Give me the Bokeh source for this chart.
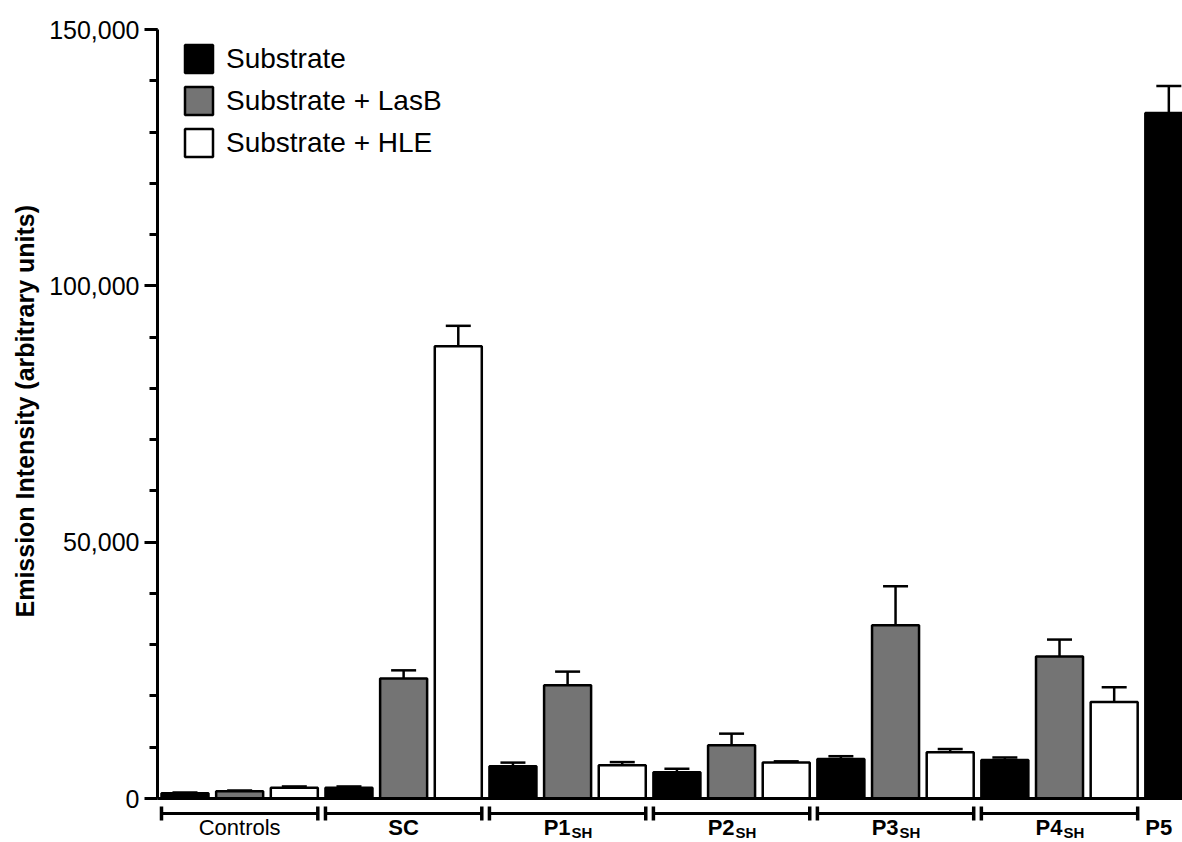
from bokeh.plotting import figure
from bokeh.models import (Range1d, Whisker, TeeHead, ColumnDataSource, Legend,
                          LegendItem, Span, FixedTicker, NumeralTickFormatter, Title)
from bokeh.core.properties import value
from bokeh.embed import file_html
from bokeh.resources import INLINE

# ---------------- data ----------------
groups = ["Controls", "SC", "P1", "P2", "P3", "P4", "P5"]
group_main = ["Controls", "SC", "P1", "P2", "P3", "P4", "P5"]
group_sub = ["", "", "SH", "SH", "SH", "SH", ""]
series_names = ["Substrate", "Substrate + LasB", "Substrate + HLE"]

substrate = [1000, 2100, 6300, 5100, 7700, 7500, 133700]
substrate_err = [150, 250, 700, 700, 550, 500, 5300]
lasb = [1400, 23400, 22100, 10400, 33800, 27700]
lasb_err = [150, 1600, 2650, 2250, 7600, 3300]
hle = [2100, 88200, 6500, 7000, 9000, 18800]
hle_err = [250, 4000, 600, 250, 650, 2900]

y_ticks = [0, 50000, 100000, 150000]
y_title = "Emission Intensity (arbitrary units)"

# ---------------- style ----------------
FONT = "Liberation Sans"
COLORS = ["#000000", "#747474", "#ffffff"]
BAR_W = 0.86
W, H = 1182, 842
TOP_PX, ZERO_PX = 29, 798
Y_MAX = 150000
Y_PER_PX = Y_MAX / (ZERO_PX - TOP_PX)
Y_MIN = -(H - ZERO_PX) * Y_PER_PX

p = figure(width=W, height=H, output_backend="svg", toolbar_location=None,
           x_range=Range1d(-0.503, 18.25), y_range=Range1d(Y_MIN, Y_MAX),
           x_axis_location=None, min_border_left=156, min_border_top=TOP_PX,
           min_border_bottom=0, min_border_right=0)
p.outline_line_color = None
p.xgrid.visible = False
p.ygrid.visible = False

all_series = [(substrate, substrate_err), (lasb, lasb_err), (hle, hle_err)]
renderers = []
for s, (vals, errs) in enumerate(all_series):
    xs = [g * 3 + s for g in range(len(vals))]
    src = ColumnDataSource(dict(x=xs, top=vals,
                                upper=[v + e for v, e in zip(vals, errs)]))
    r = p.vbar(x="x", top="top", bottom=0, width=BAR_W, source=src,
               fill_color=COLORS[s], line_color="black", line_width=2.5)
    renderers.append(r)
    wk = Whisker(source=src, base="x", lower="top", upper="upper",
                 dimension="height", line_color="black", line_width=2.5,
                 lower_head=None,
                 upper_head=TeeHead(size=25, line_color="black", line_width=2.5))
    p.add_layout(wk)

# x axis line at zero
p.add_layout(Span(location=0, dimension="width", line_color="black", line_width=3))

# y axis
ax = p.yaxis[0]
ax.ticker = FixedTicker(ticks=y_ticks, minor_ticks=list(range(0, Y_MAX + 1, 10000)))
ax.formatter = NumeralTickFormatter(format="0,0")
ax.bounds = (0, Y_MAX)
ax.axis_line_width = 3
ax.major_tick_line_width = 3
ax.minor_tick_line_width = 3
ax.major_tick_in = 0
ax.major_tick_out = 13
ax.minor_tick_in = 0
ax.minor_tick_out = 8
ax.major_label_standoff = 5
ax.major_label_text_font = FONT
ax.major_label_text_font_size = "25px"
ax.major_label_text_color = "black"

# y axis title, centred on the 0..150,000 span (offset from the frame bottom)
p.add_layout(Title(text=y_title, align="left", offset=225, standoff=16,
                   text_font=FONT, text_font_size="25px", text_font_style="bold",
                   text_color="black"), "left")

# legend
legend = Legend(items=[LegendItem(label=n, renderers=[r]) for n, r in zip(series_names, renderers)],
                location=(24, 682), orientation="vertical",
                glyph_width=35, glyph_height=35, label_standoff=10,
                label_text_font=FONT, label_text_font_size="28px",
                label_text_color="black", spacing=7, padding=0, margin=0,
                border_line_color=None, background_fill_alpha=0)
p.add_layout(legend)

# ---------------- group brackets and labels below the zero line ----------------
br_y = -15 * Y_PER_PX
br_y0 = -8 * Y_PER_PX
br_y1 = -22 * Y_PER_PX
bx0 = [g * 3 - BAR_W / 2 for g in range(6)]
bx1 = [g * 3 + 2 + BAR_W / 2 for g in range(6)]
p.segment(x0=bx0, x1=bx1, y0=[br_y] * 6, y1=[br_y] * 6, line_color="black", line_width=3)
p.segment(x0=bx0 + bx1, x1=bx0 + bx1, y0=[br_y0] * 12, y1=[br_y1] * 12,
          line_color="black", line_width=3.5)

LAB_OFF, SUB_OFF = 29, 34
cx = [g * 3 + 1 for g in range(6)]
p.text(x=[cx[0]], y=[0], text=[group_main[0]], y_offset=LAB_OFF,
       text_font=value(FONT), text_font_size="22px", text_align="center",
       text_baseline="alphabetic", text_color="black")
p.text(x=[cx[1]], y=[0], text=[group_main[1]], y_offset=LAB_OFF,
       text_font=value(FONT), text_font_size="22px", text_font_style="bold",
       text_align="center", text_baseline="alphabetic", text_color="black")
p.text(x=cx[2:6], y=[0] * 4, text=group_main[2:6], y_offset=LAB_OFF, x_offset=3,
       text_font=value(FONT), text_font_size="22px", text_font_style="bold",
       text_align="right", text_baseline="alphabetic", text_color="black")
p.text(x=cx[2:6], y=[0] * 4, text=group_sub[2:6], y_offset=SUB_OFF, x_offset=4,
       text_font=value(FONT), text_font_size="15px", text_font_style="bold",
       text_align="left", text_baseline="alphabetic", text_color="black")
p.text(x=[18 - BAR_W / 2], y=[0], text=[group_main[6]], y_offset=LAB_OFF,
       text_font=value(FONT), text_font_size="22px", text_font_style="bold",
       text_align="left", text_baseline="alphabetic", text_color="black")

open("out.html", "w").write(file_html(p, INLINE))
